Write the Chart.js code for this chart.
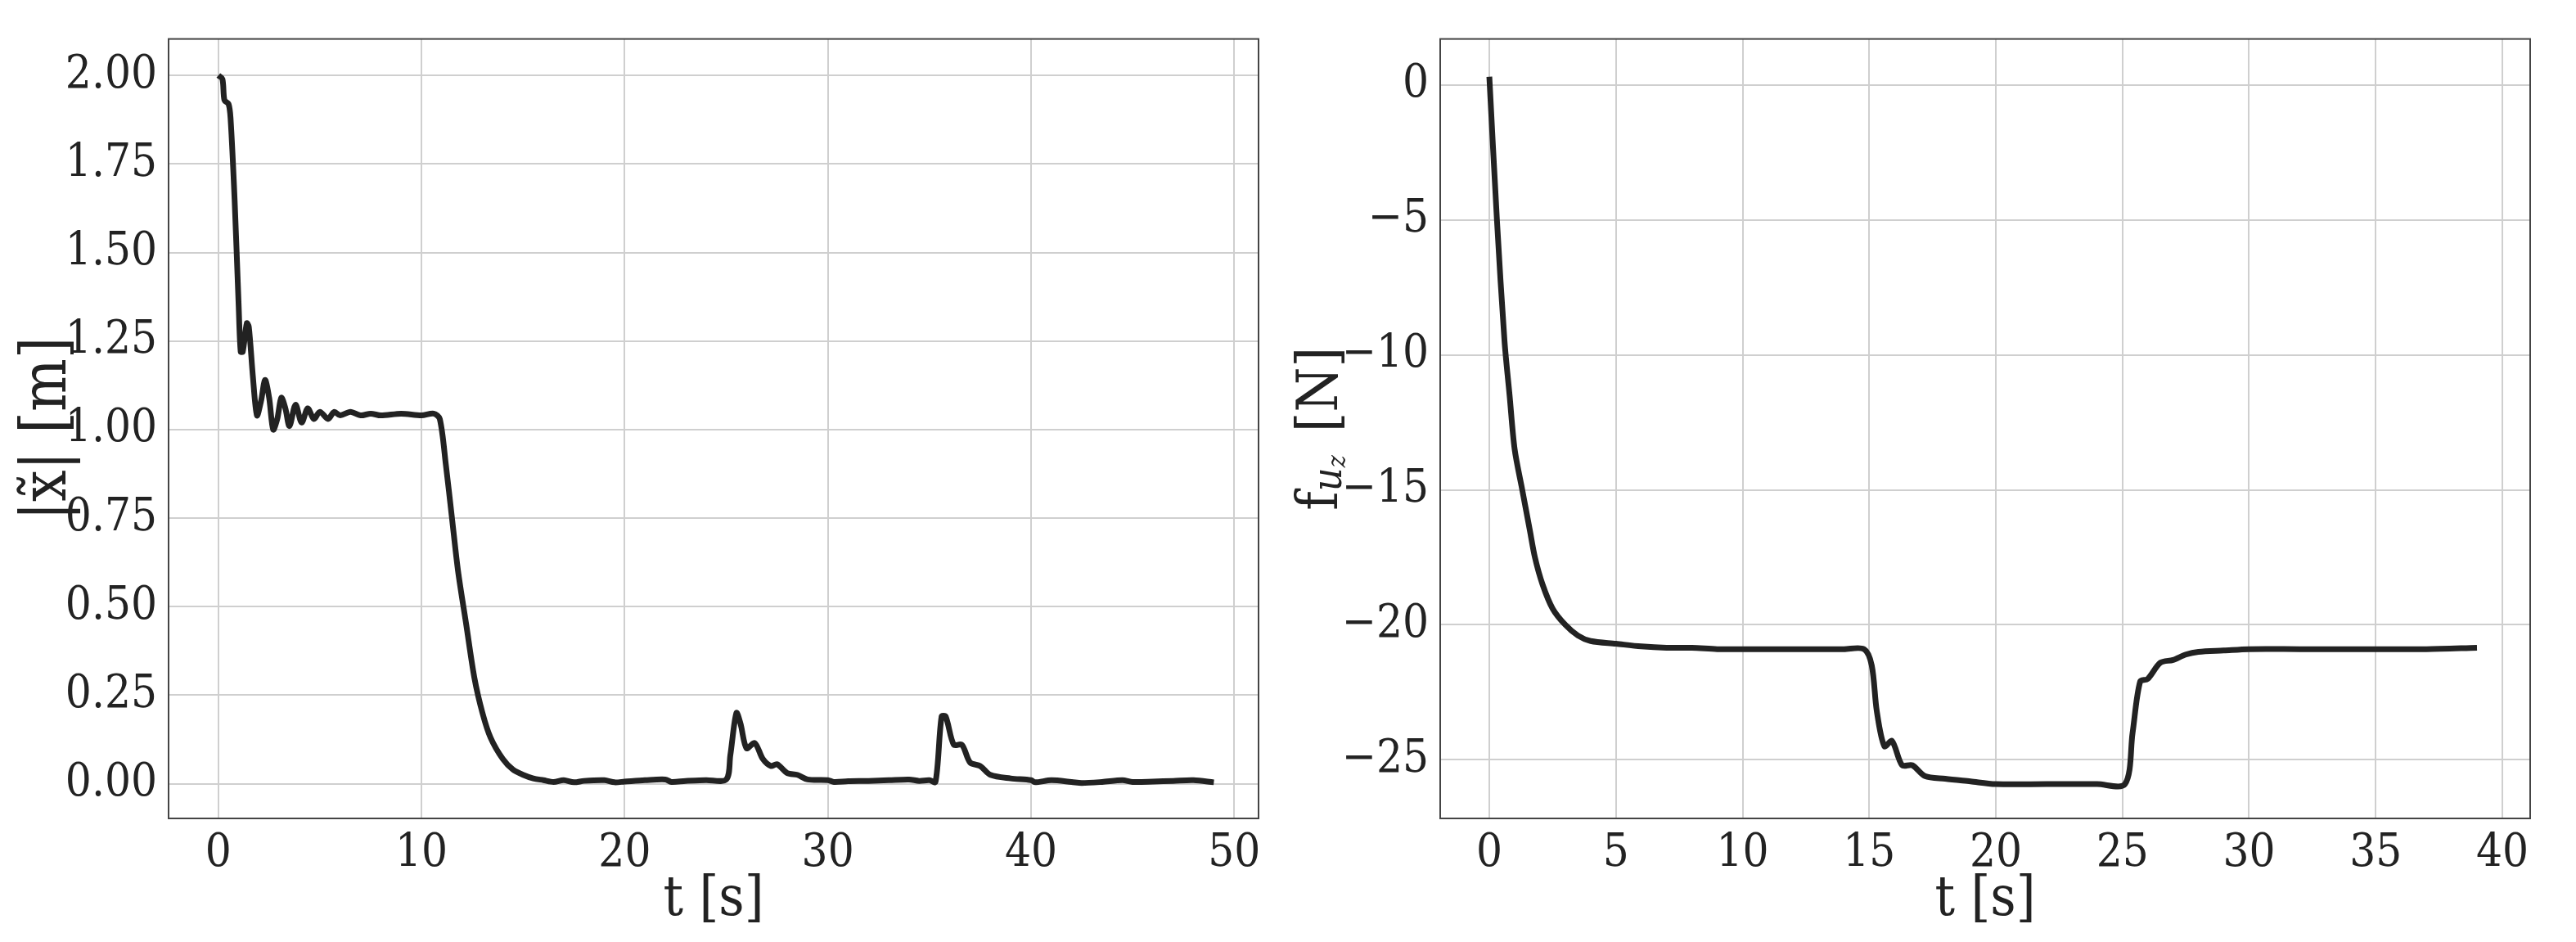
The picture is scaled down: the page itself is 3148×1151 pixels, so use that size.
<!DOCTYPE html>
<html><head><meta charset="utf-8">
<script src="https://cdn.jsdelivr.net/npm/chart.js@4"></script>
<style>body{margin:0;background:#fff}#w{display:flex;width:3148px;height:1151px}.c{width:1574px;height:1151px;position:relative}</style>
</head><body><div id="w"><div class="c"><canvas id="a"></canvas></div><div class="c"><canvas id="b"></canvas></div></div>
<script>
const leftT=[0,0.2,0.3,0.5,0.6,0.8,1.0,1.1,1.2,1.4,1.5,1.7,1.9,2.1,2.3,2.5,2.7,2.9,3.1,3.3,3.5,3.8,4.1,4.4,4.7,5.0,5.4,5.7,6.0,6.5,7,7.5,8,9,10,10.6,10.9,11.2,11.5,11.8,12.2,12.6,13,13.4,14,14.5,15,15.5,16,16.5,17,17.5,18,19,19.5,20,21,22,22.3,23,24,25,25.2,25.5,25.7,26,26.4,26.8,27.2,27.5,28,28.5,29,30,30.3,31,32,33,34,34.5,35,35.3,35.6,35.8,36.2,36.6,37,37.5,38,39,40,40.2,41,42,42.5,43.5,44.5,45,46,47,48,49];
const leftY=[2.0,1.99,1.93,1.92,1.88,1.65,1.35,1.22,1.22,1.30,1.29,1.15,1.04,1.08,1.14,1.09,1.00,1.03,1.09,1.06,1.01,1.07,1.02,1.06,1.03,1.05,1.03,1.05,1.04,1.05,1.04,1.045,1.04,1.045,1.04,1.045,1.03,0.90,0.75,0.60,0.45,0.30,0.20,0.13,0.07,0.04,0.025,0.015,0.01,0.005,0.01,0.004,0.008,0.01,0.004,0.006,0.01,0.012,0.005,0.008,0.01,0.012,0.08,0.2,0.17,0.1,0.115,0.07,0.05,0.055,0.03,0.025,0.012,0.01,0.005,0.007,0.008,0.01,0.012,0.008,0.01,0.005,0.19,0.19,0.11,0.11,0.06,0.05,0.025,0.015,0.01,0.004,0.01,0.005,0.002,0.005,0.01,0.005,0.006,0.008,0.01,0.004];
const rightT=[0,0.3,0.6,0.8,1.0,1.3,1.6,1.8,2.1,2.5,3,3.5,4,5,6,7,8,9,10,12,14,14.8,15.1,15.3,15.6,15.9,16.3,16.7,17.2,18,19,20,22,24,25.1,25.4,25.7,26,26.5,27,27.5,28,29,30,32,35,37,39];
const rightY=[0.3,-5,-9.5,-11.5,-13.5,-15,-16.5,-17.5,-18.5,-19.4,-20,-20.4,-20.6,-20.7,-20.8,-20.85,-20.85,-20.9,-20.9,-20.9,-20.9,-20.9,-21.5,-23.2,-24.5,-24.3,-25.2,-25.2,-25.6,-25.7,-25.8,-25.9,-25.9,-25.9,-25.9,-24,-22.1,-22.0,-21.4,-21.3,-21.1,-21.0,-20.95,-20.9,-20.9,-20.9,-20.9,-20.85];
const leftYTicks=[0,0.25,0.5,0.75,1.0,1.25,1.5,1.75,2.0];
const leftXTicks=[0,10,20,30,40,50];
const rightYTicks=[0,-5,-10,-15,-20,-25];
const rightXTicks=[0,5,10,15,20,25,30,35,40];
const FONT='"DejaVu Serif Condensed","DejaVu Serif",serif';
function make(id,T,Y,xr,yr,xt,yt,yfmt,pad,ywidth,title){
  const tickFont={family:FONT,size:56};
  new Chart(document.getElementById(id),{type:'line',
    data:{datasets:[{data:T.map((t,i)=>({x:t,y:Y[i]})),borderColor:'#222',borderWidth:7,pointRadius:0,tension:0.3,fill:false}]},
    options:{responsive:true,maintainAspectRatio:false,animation:false,
      layout:{padding:pad},
      plugins:{legend:{display:false},tooltip:{enabled:false}},
      scales:{
        x:{type:'linear',min:xr[0],max:xr[1],afterBuildTicks:s=>{s.ticks=xt.map(v=>({value:v}))},
          afterFit:s=>{s.height=151},
          grid:{color:'#cfcfcf',lineWidth:2,drawTicks:false},border:{color:'#444',width:2},
          ticks:{font:tickFont,color:'#222',padding:10,callback:v=>String(v)}},
        y:{type:'linear',min:yr[0],max:yr[1],afterBuildTicks:s=>{s.ticks=yt.map(v=>({value:v}))},
          afterFit:s=>{s.width=ywidth},
          grid:{color:'#cfcfcf',lineWidth:2,drawTicks:false},border:{color:'#444',width:2},
          ticks:{font:tickFont,color:'#222',padding:14,callback:yfmt}}
      }},
    plugins:[{id:'ttl',afterDraw(c){const ctx=c.ctx,a=c.chartArea;ctx.save();
      ctx.strokeStyle='#444';ctx.lineWidth=2;ctx.strokeRect(a.left,a.top,a.right-a.left,a.bottom-a.top);
      ctx.fillStyle='#222';
      ctx.textAlign='center';ctx.textBaseline='middle';
      ctx.font='68px '+FONT;ctx.fillText('t [s]',(a.left+a.right)/2,1100);
      ctx.translate(title.x,(a.top+a.bottom)/2);ctx.rotate(-Math.PI/2);title.draw(ctx);ctx.restore();}}]
  });
}
make('a',leftT,leftY,[-2.45,51.2],[-0.098,2.103],leftXTicks,leftYTicks,v=>v.toFixed(2),{top:-14,right:36,left:0,bottom:0},206,
 {x:60,draw(ctx){ctx.font='76px '+FONT;ctx.fillText('|x\u0303| [m]',0,0);}});
make('b',rightT,rightY,[-1.94,41.1],[-27.17,1.7],rightXTicks,rightYTicks,v=>v<0?'\u2212'+(-v):String(v),{top:-14,right:56,left:0,bottom:0},186,
 {x:42,draw(ctx){ctx.textAlign='left';ctx.font='70px '+FONT;const w1=ctx.measureText('f').width;
   ctx.font='italic 50px '+FONT;const w2=ctx.measureText('u').width;ctx.font='italic 32px '+FONT;const w3=ctx.measureText('z').width;
   ctx.font='70px '+FONT;const w4=ctx.measureText(' [N]').width;const tot=w1+w2+w3+8+w4;let x=-tot/2;
   ctx.fillText('f',x,0);x+=w1;ctx.font='italic 50px '+FONT;ctx.fillText('u',x,10);x+=w2;
   ctx.font='italic 32px '+FONT;ctx.fillText('z',x,20);x+=w3+8;ctx.font='70px '+FONT;ctx.fillText(' [N]',x,0);}});
</script></body></html>
